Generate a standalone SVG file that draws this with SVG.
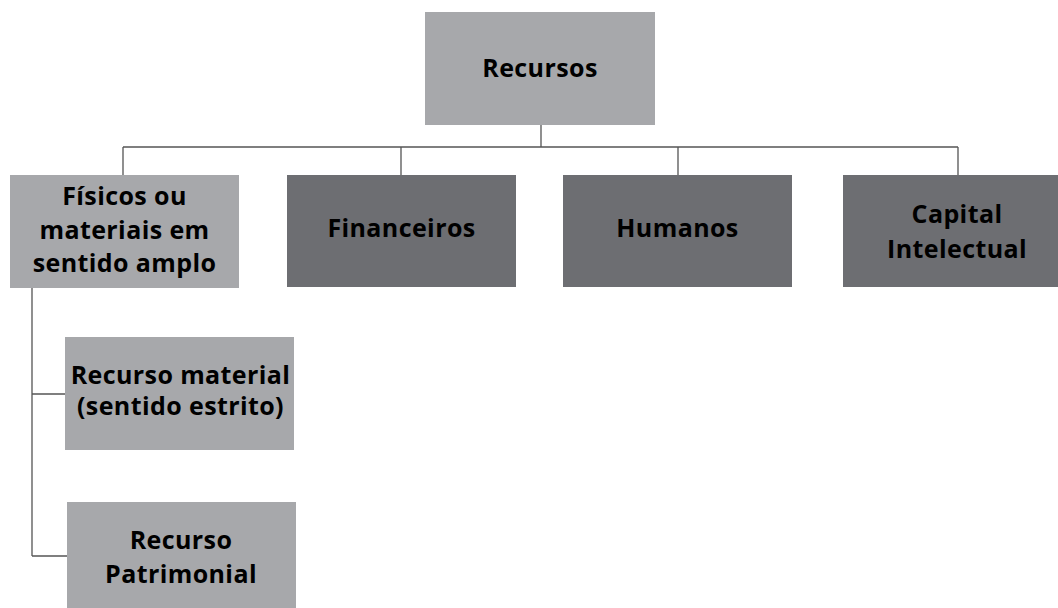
<svg xmlns="http://www.w3.org/2000/svg" width="1058" height="608" viewBox="0 0 1058 608">
<style>
.light{fill:#a7a8ab}
.dark{fill:#6d6e72}
.t{font-family:"Open Sans","Liberation Sans",sans-serif;font-weight:bold;font-size:25px;fill:#000;text-anchor:middle;letter-spacing:0.4px}
.c{stroke:#555;stroke-width:1.3;fill:none}
</style>
<rect width="1058" height="608" fill="#fff"/>
<g id="connectors">
<path class="c" d="M541 125V147M123 147H958M123 147V175M401 147V175M678 147V175M958 147V175"/>
<path class="c" d="M32 288V556M32 394H65M32 556H67"/>
</g>
<g id="recursos"><rect class="light" x="425" y="12" width="230" height="113"/><text class="t" x="540" y="77">Recursos</text></g>
<g id="fisicos"><rect class="light" x="10" y="175" width="229" height="113"/><text class="t" x="124.5" y="205">Físicos ou</text><text class="t" x="124.5" y="239">materiais em</text><text class="t" x="124.5" y="272">sentido amplo</text></g>
<g id="financeiros"><rect class="dark" x="287" y="175" width="229" height="112"/><text class="t" x="401.5" y="237">Financeiros</text></g>
<g id="humanos"><rect class="dark" x="563" y="175" width="229" height="112"/><text class="t" x="677.5" y="237">Humanos</text></g>
<g id="capital"><rect class="dark" x="843" y="175" width="229" height="112"/><text class="t" x="957" y="223">Capital</text><text class="t" x="957" y="258">Intelectual</text></g>
<g id="material"><rect class="light" x="65" y="337" width="229" height="113"/><text class="t" x="180.5" y="384">Recurso material</text><text class="t" x="180.5" y="415">(sentido estrito)</text></g>
<g id="patrimonial"><rect class="light" x="67" y="502" width="229" height="113"/><text class="t" x="181" y="549">Recurso</text><text class="t" x="181" y="583">Patrimonial</text></g>
</svg>
